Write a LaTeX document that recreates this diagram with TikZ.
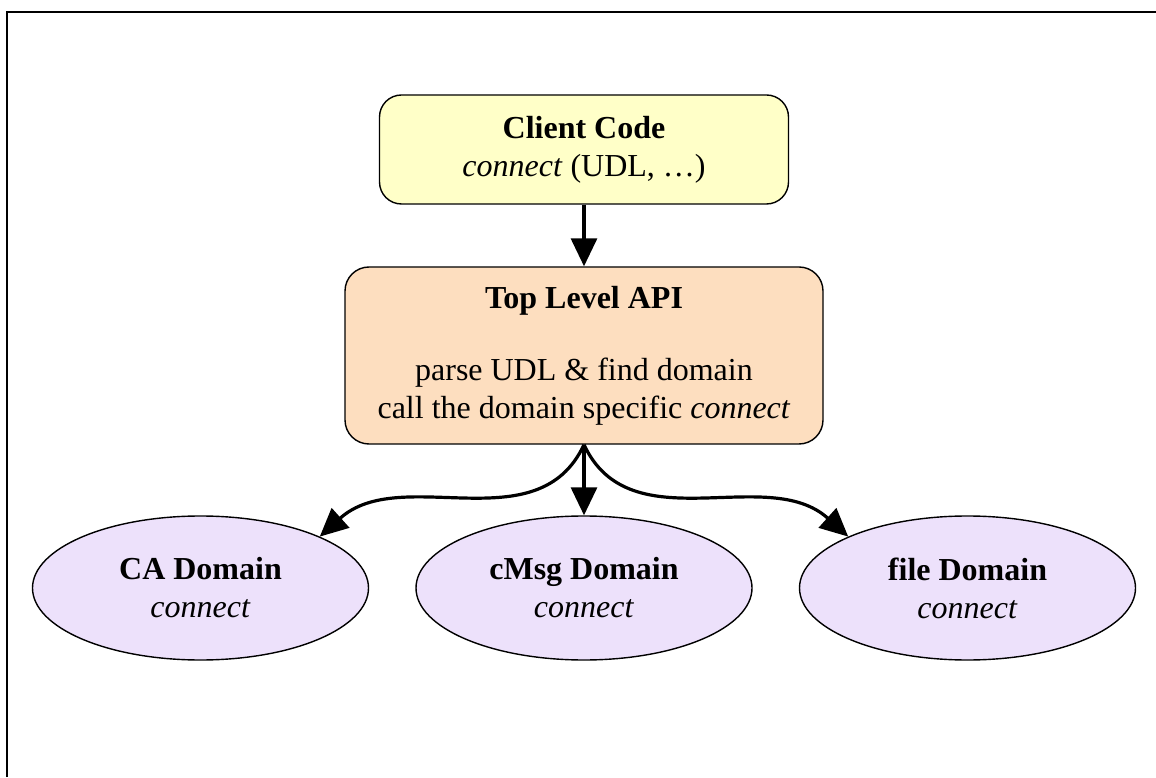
\documentclass[tikz,border=0pt]{standalone}
\usepackage{fontspec}
\setmainfont{Liberation Serif}
\usetikzlibrary{arrows.meta,shapes.geometric}

\definecolor{clientfill}{RGB}{255,255,200}
\definecolor{apifill}{RGB}{253,222,191}
\definecolor{domainfill}{RGB}{237,225,251}

\tikzset{
  clientbox/.style={draw,line width=0.7pt,rounded corners=11pt,fill=clientfill,
    minimum width=204.5pt,minimum height=54.5pt,align=center,inner sep=0pt},
  apibox/.style={draw,line width=0.7pt,rounded corners=12pt,fill=apifill,
    minimum width=239pt,minimum height=88.5pt,align=center,inner sep=0pt},
  domainell/.style={ellipse,draw,line width=0.7pt,fill=domainfill,
    minimum width=168pt,minimum height=72pt,align=center,inner sep=0pt}
}

\begin{document}
\begin{tikzpicture}[x=0.5pt,y=0.5pt,>={Triangle[length=14pt,width=13pt]},
  node distance=191.75pt,font=\fontsize{16}{19}\selectfont]

\useasboundingbox (0,0) rectangle (1156,777);
\draw[line width=1.2pt] (7,0) |- (1156,765);

\node[clientbox] (client) at (584,627.5) {\textbf{Client Code}\\\textit{connect} (UDL, \dots)};
	\node[apibox]    (api)    at (584,421.5) {\textbf{Top Level API}\\[17pt]parse UDL \& find domain\\call the domain specific \textit{connect}};
	\node[domainell] (cmsg)   at (584,189)   {\textbf{cMsg Domain}\\\textit{connect}};
	\node[domainell] (ca)     [left of=cmsg]  {\textbf{CA Domain}\\\textit{connect}};
	\node[domainell] (file)   [right of=cmsg] {\textbf{file Domain}\\\textit{connect}};

	\path[->,line width=1.6pt] (client) edge (api)
		(api.south) edge[out=-115,in=42]  (ca.north east)
		(api.south) edge                  (cmsg)
		(api.south) edge[out=-65,in=138]  (file.north west);
\end{tikzpicture}
\end{document}
